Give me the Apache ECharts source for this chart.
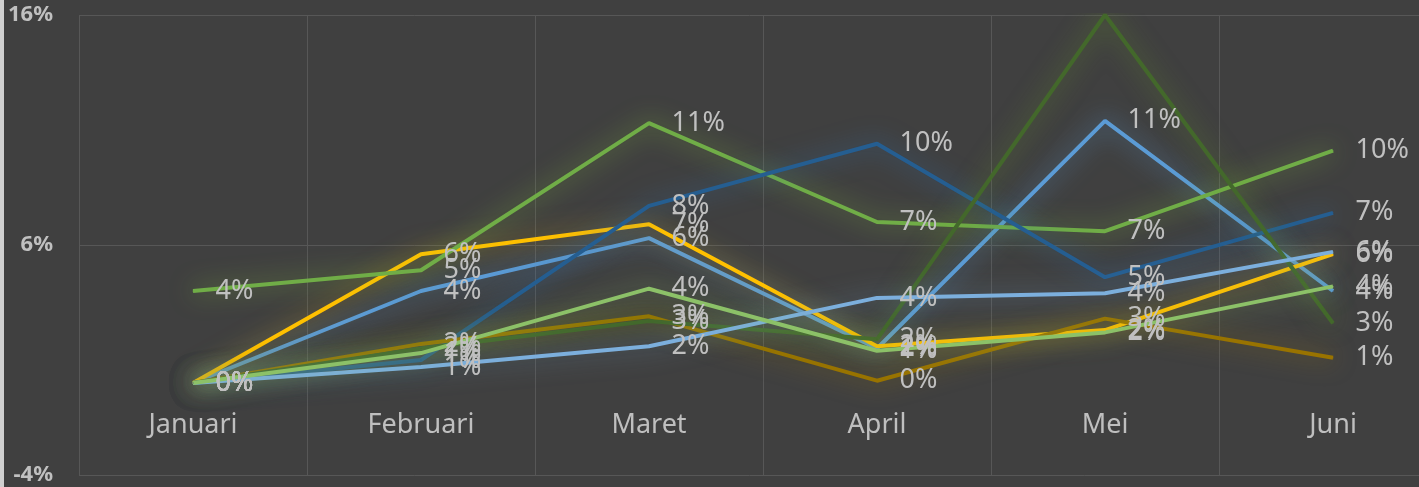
<!DOCTYPE html>
<html>
<head>
<meta charset="utf-8">
<script src="https://cdn.jsdelivr.net/npm/echarts@6/dist/echarts.min.js"></script>
<style>
  html, body { margin: 0; padding: 0; background: #404040; }
  #chart { width: 1419px; height: 487px; }
</style>
</head>
<body>
<div id="chart"></div>
<script>
  // months on the x axis
  const months = ['Januari', 'Februari', 'Maret', 'April', 'Mei', 'Juni']
  // y axis ticks (percent)
  const yTicks = [-4, 6, 16]

  // values in percent
  const seriesBlue = [0, 4.0, 6.3, 1.5, 11.4, 4.0]
  const seriesYellow = [0, 5.6, 6.9, 1.6, 2.3, 5.6]
  const seriesGreen = [4.0, 4.9, 11.3, 7.0, 6.6, 10.1]
  const seriesDarkBlue = [0, 1.0, 7.7, 10.4, 4.6, 7.4]
  const seriesGold = [0, 1.7, 2.9, 0.1, 2.8, 1.1]
  const seriesDarkGreen = [0, 1.5, 2.7, 1.9, 16.0, 2.6]
  const seriesLightBlue = [0, 0.7, 1.6, 3.7, 3.9, 5.7]
  const seriesLightGreen = [0, 1.3, 4.1, 1.4, 2.2, 4.2]

  const lines = [
    { data: seriesBlue, color: '#5B9BD5', glow: 'rgba(91,155,213,0.85)' },
    { data: seriesYellow, color: '#FFC000', glow: 'rgba(255,192,0,0.6)' },
    { data: seriesGreen, color: '#70AD47', glow: 'rgba(140,200,60,0.75)' },
    { data: seriesDarkBlue, color: '#255E91', glow: 'rgba(50,110,170,0.85)' },
    { data: seriesGold, color: '#997300', glow: 'rgba(170,130,0,0.7)' },
    { data: seriesDarkGreen, color: '#43682B', glow: 'rgba(110,160,40,0.7)', hideLabel: [4] },
    { data: seriesLightBlue, color: '#7CAFDD', glow: 'rgba(124,175,221,0.6)' },
    { data: seriesLightGreen, color: '#8CC168', glow: 'rgba(140,193,104,0.7)' }
  ]

  const chart = echarts.init(document.getElementById('chart'))

  const labelFont = '"Noto Sans", sans-serif'

  const option = {
    backgroundColor: '#404040',
    animation: false,
    grid: {
      left: 79,
      top: 15,
      bottom: 12,
      width: 1368,
      containLabel: false,
      outerBoundsMode: 'none'
    },
    graphic: [
      {
        type: 'rect',
        left: 0,
        top: 0,
        shape: { width: 4, height: 487 },
        style: { fill: '#d0d0d0' }
      }
    ],
    xAxis: {
      type: 'category',
      data: months,
      boundaryGap: true,
      axisLine: { show: false, onZero: false },
      axisTick: { show: false },
      axisLabel: {
        color: '#bfbfbf',
        fontSize: 27,
        fontFamily: labelFont,
        margin: -63
      },
      splitLine: {
        show: true,
        lineStyle: { color: '#575757', width: 1 }
      }
    },
    yAxis: {
      type: 'value',
      min: yTicks[0],
      max: yTicks[yTicks.length - 1],
      axisLine: { show: false },
      axisTick: { show: false, customValues: yTicks },
      axisLabel: {
        customValues: yTicks,
        formatter: '{value}%',
        color: '#c0c0c0',
        fontSize: 22,
        fontWeight: 'bold',
        fontFamily: labelFont,
        margin: 26
      },
      splitLine: {
        show: true,
        lineStyle: { color: '#575757', width: 1 }
      }
    },
    series: lines.map(l => ({
      type: 'line',
      data: l.data.map((v, i) => (l.hideLabel && l.hideLabel.includes(i))
        ? { value: v, label: { show: false } }
        : v),
      symbol: 'circle',
      symbolSize: 1,
      showSymbol: true,
      itemStyle: { color: l.color },
      lineStyle: {
        color: l.color,
        width: 4,
        shadowBlur: 24,
        shadowColor: l.glow
      },
      label: {
        show: true,
        position: 'right',
        distance: 22,
        color: '#c0c0c0',
        fontSize: 27,
        fontFamily: labelFont,
        formatter: p => Math.round(p.value) + '%'
      }
    }))
  }

  chart.setOption(option)
</script>
</body>
</html>
